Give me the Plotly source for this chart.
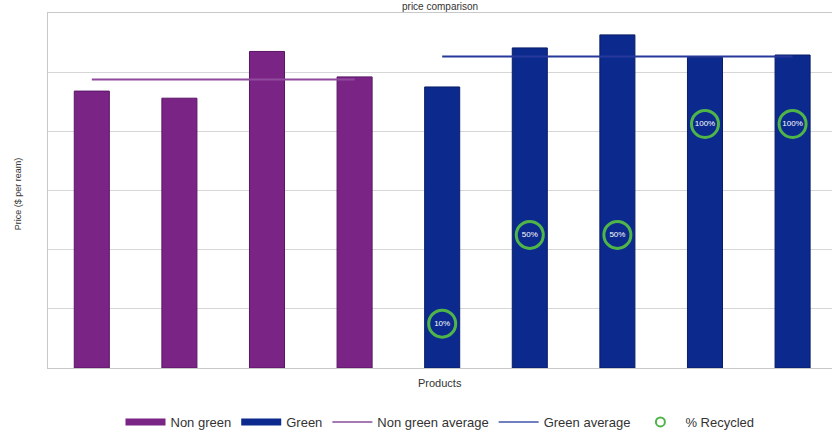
import plotly.graph_objects as go

products = ["P1", "P2", "P3", "P4", "P5", "P6", "P7", "P8", "P9"]
non_green_products = ["P1", "P2", "P3", "P4"]
non_green_prices = [4.68, 4.56, 5.35, 4.92]
green_products = ["P5", "P6", "P7", "P8", "P9"]
green_prices = [4.75, 5.41, 5.63, 5.25, 5.29]
recycled_products = ["P5", "P6", "P7", "P8", "P9"]
recycled_pct = [10, 50, 50, 100, 100]
recycled_labels = ["10%", "50%", "50%", "100%", "100%"]

non_green_avg = sum(non_green_prices) / len(non_green_prices)
green_avg = sum(green_prices) / len(green_prices)

PURPLE = "#7a2586"
BLUE = "#0c2a8e"
CIRCLE = "#4fb548"
FONT = "Liberation Sans"

fig = go.Figure()
fig.add_trace(go.Bar(
    x=non_green_products, y=non_green_prices, name="Non green", showlegend=False,
    marker=dict(color=PURPLE, line=dict(color="#5a1565", width=1)), width=0.4,
))
fig.add_trace(go.Bar(
    x=green_products, y=green_prices, name="Green", showlegend=False,
    marker=dict(color=BLUE, line=dict(color="#081d66", width=1)), width=0.4,
))
fig.add_trace(go.Scatter(
    x=[non_green_products[0], non_green_products[-1]], y=[non_green_avg] * 2,
    mode="lines", name="Non green average", showlegend=False,
    line=dict(color="#8f4a9c", width=2),
))
fig.add_trace(go.Scatter(
    x=[green_products[0], green_products[-1]], y=[green_avg] * 2,
    mode="lines", name="Green average", showlegend=False,
    line=dict(color="#26399a", width=2),
))
fig.add_trace(go.Scatter(
    x=recycled_products, y=recycled_pct, yaxis="y2", name="% Recycled", showlegend=False,
    mode="markers+text", text=recycled_labels, textposition="middle center",
    textfont=dict(color="white", size=8, family=FONT),
    marker=dict(symbol="circle-open", size=27, color=CIRCLE, line=dict(width=3, color=CIRCLE)),
))

# Legend entries (styled like the reference's swatches)
fig.add_trace(go.Scatter(x=[None], y=[None], mode="lines", name="Non green",
                         line=dict(color=PURPLE, width=7)))
fig.add_trace(go.Scatter(x=[None], y=[None], mode="lines", name="Green",
                         line=dict(color=BLUE, width=7)))
fig.add_trace(go.Scatter(x=[None], y=[None], mode="lines", name="Non green average",
                         line=dict(color="#a57ab3", width=2)))
fig.add_trace(go.Scatter(x=[None], y=[None], mode="lines", name="Green average",
                         line=dict(color="#6f7fc0", width=2)))
fig.add_trace(go.Scatter(x=[None], y=[None], mode="markers", name="% Recycled",
                         marker=dict(symbol="circle-open", size=9, color=CIRCLE,
                                     line=dict(width=2, color=CIRCLE))))

# Title (sits at the very top of the picture)
fig.add_annotation(text="price comparison", xref="paper", yref="paper", x=0.5, y=1.0185,
                   yanchor="middle", showarrow=False,
                   font=dict(size=10, color="#333", family=FONT))
# Axis titles
fig.add_annotation(text="Products", xref="paper", yref="paper", x=0.5, y=-0.043,
                   yanchor="middle", showarrow=False,
                   font=dict(size=11, color="#333", family=FONT))
fig.add_annotation(text="Price ($ per ream)", xref="paper", yref="paper", x=-0.038, y=0.49,
                   xanchor="center", yanchor="middle", textangle=-90, showarrow=False,
                   font=dict(size=9, color="#333", family=FONT))

fig.update_layout(
    width=832, height=446,
    margin=dict(l=48, r=0, t=13, b=78, autoexpand=False),
    paper_bgcolor="white", plot_bgcolor="white",
    showlegend=True,
    legend=dict(orientation="h", x=0.5, xanchor="center", y=-0.152, yanchor="middle",
                font=dict(size=13, color="#333", family=FONT),
                traceorder="normal", itemwidth=40),
    xaxis=dict(range=[-0.5, 8.45], showticklabels=False, showgrid=False, automargin=False,
               showline=True, linecolor="#c8c8c8", mirror=True, ticks=""),
    yaxis=dict(range=[0, 6], dtick=1, showticklabels=False, showgrid=True, gridcolor="#d6d6d6",
               automargin=False, showline=True, linecolor="#c8c8c8", mirror=True,
               zeroline=False, ticks=""),
    yaxis2=dict(range=[-10, 150], overlaying="y", side="right", visible=False, showgrid=False),
)

fig.write_html("out.html", config={"displayModeBar": False},
               post_script="document.body.style.margin='0px';")
